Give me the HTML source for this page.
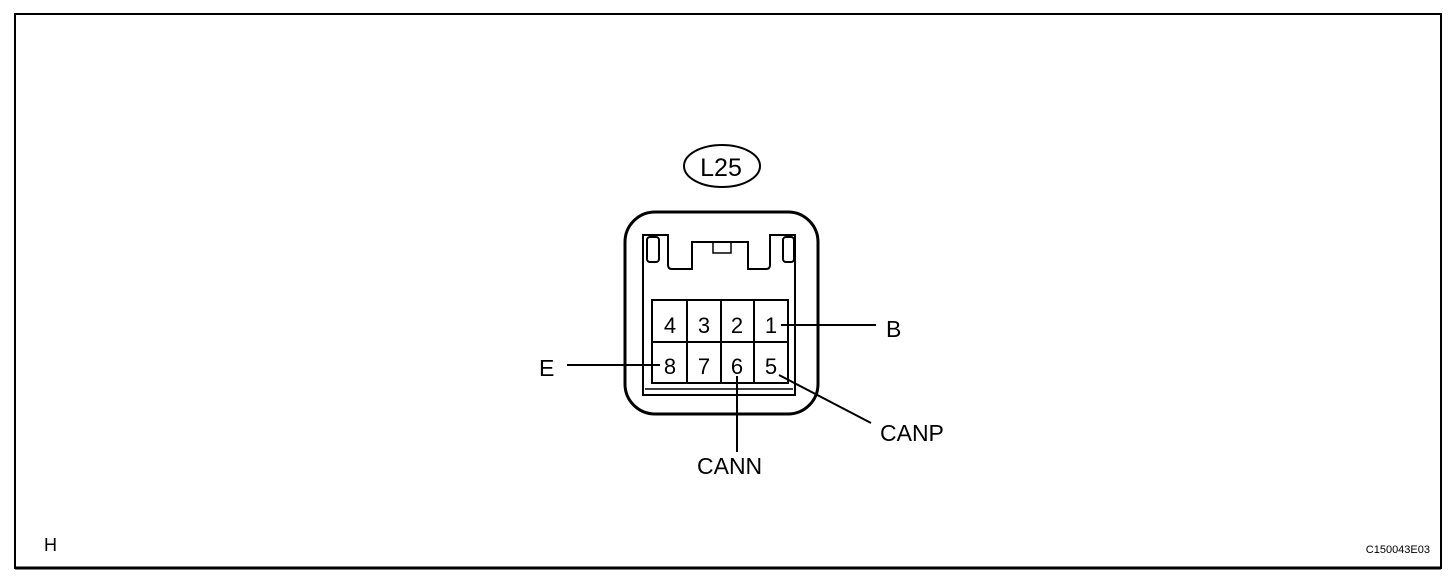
<!DOCTYPE html>
<html><head><style>
html,body{margin:0;padding:0;background:#fff;}
svg{display:block;}
text{font-family:"Liberation Sans",Arial,sans-serif;fill:#000;}
</style></head><body>
<svg width="1456" height="582" viewBox="0 0 1456 582" xmlns="http://www.w3.org/2000/svg">
<rect x="15" y="14" width="1426" height="554" fill="none" stroke="#000" stroke-width="2"/>
<line x1="15" y1="568" x2="1441" y2="568" stroke="#000" stroke-width="3"/>
<ellipse cx="722" cy="166" rx="38" ry="21" fill="none" stroke="#000" stroke-width="2"/>
<text x="721" y="176" font-size="25" text-anchor="middle">L25</text>
<rect x="625" y="212" width="193" height="202" rx="30" ry="30" fill="none" stroke="#000" stroke-width="3"/>
<path d="M643 235 H668 V265 Q668 269 672 269 H692 V242 H748 V269 H766 Q770 269 770 265 V235 H795 V395 H643 Z" fill="none" stroke="#000" stroke-width="2"/>
<line x1="645" y1="389" x2="793" y2="389" stroke="#000" stroke-width="1.5"/>
<rect x="713" y="242" width="18" height="11" fill="none" stroke="#000" stroke-width="1.5"/>
<rect x="647" y="237" width="12" height="25" rx="3" fill="none" stroke="#000" stroke-width="2"/>
<rect x="783" y="237" width="11" height="25" rx="3" fill="none" stroke="#000" stroke-width="2"/>
<rect x="652" y="300" width="136" height="83" fill="none" stroke="#000" stroke-width="2"/>
<line x1="652" y1="342" x2="788" y2="342" stroke="#000" stroke-width="2"/>
<line x1="687" y1="300" x2="687" y2="383" stroke="#000" stroke-width="2"/>
<line x1="721" y1="300" x2="721" y2="383" stroke="#000" stroke-width="2"/>
<line x1="754" y1="300" x2="754" y2="383" stroke="#000" stroke-width="2"/>
<g font-size="22" text-anchor="middle">
<text x="670" y="333">4</text><text x="704" y="333">3</text><text x="737" y="333">2</text><text x="771" y="333">1</text>
<text x="670" y="374">8</text><text x="704" y="374">7</text><text x="737" y="374">6</text><text x="771" y="374">5</text>
</g>
<g stroke="#000" stroke-width="2">
<line x1="781" y1="325" x2="876" y2="325"/>
<line x1="567" y1="365" x2="660" y2="365"/>
<line x1="737" y1="376" x2="737" y2="452"/>
<line x1="779" y1="375" x2="871" y2="423"/>
</g>
<g font-size="23">
<text x="886" y="337">B</text>
<text x="539" y="376">E</text>
<text x="697" y="474">CANN</text>
<text x="880" y="441">CANP</text>
</g>
<text x="44" y="551" font-size="18">H</text>
<text x="1430" y="553" font-size="11" text-anchor="end">C150043E03</text>
</svg>
</body></html>
